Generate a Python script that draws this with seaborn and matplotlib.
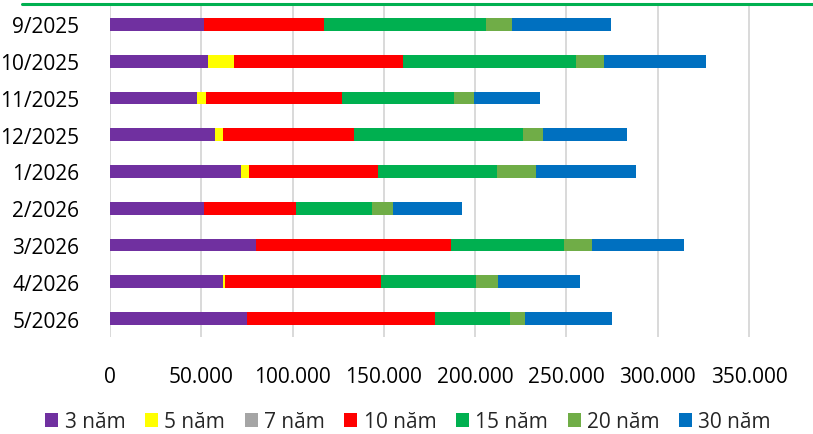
import matplotlib
matplotlib.use("Agg")
import matplotlib.pyplot as plt
from matplotlib.lines import Line2D
from matplotlib.patches import Patch
from matplotlib.ticker import FuncFormatter
import numpy as np
import pandas as pd
import seaborn as sns

# Issuance by tenor per month
months = ["9/2025", "10/2025", "11/2025", "12/2025", "1/2026",
          "2/2026", "3/2026", "4/2026", "5/2026"]
tenors = ["3 năm", "5 năm", "7 năm", "10 năm", "15 năm", "20 năm", "30 năm"]

y3 = [51640, 53670, 47810, 57670, 71740, 51640, 79790, 61880, 74860]
y5 = [0, 14240, 4930, 4210, 4200, 0, 0, 1280, 0]
y7 = [0, 0, 0, 0, 0, 0, 0, 0, 0]
y10 = [65720, 92710, 74310, 71920, 71010, 50060, 106960, 85250, 103290]
y15 = [88720, 94580, 61340, 92550, 64990, 41780, 62050, 52190, 40910]
y20 = [14070, 15340, 11120, 10610, 21360, 11500, 15330, 12050, 8050]
y30 = [54050, 55860, 35980, 46000, 54940, 37960, 50040, 44910, 47970]

colors = ["#7030A0", "#FFFF00", "#A5A5A5", "#FF0000", "#00B050", "#70AD47", "#0070C0"]

series = [y3, y5, y7, y10, y15, y20, y30]
cum = np.cumsum(np.array(series, dtype=float), axis=0)

sns.set_theme(style="white")
plt.rcParams["font.family"] = ["Open Sans", "DejaVu Sans"]

fig = plt.figure(figsize=(8.13, 4.35), dpi=100)
ax = fig.add_axes([110 / 813, 1 - 338 / 435, 1 - 110 / 813, 331 / 435])

# stacked bars: draw cumulative totals from the outermost segment inwards
for i in range(len(tenors) - 1, -1, -1):
    df = pd.DataFrame({"month": months, "value": cum[i]})
    sns.barplot(data=df, x="value", y="month", order=months, orient="h",
                color=colors[i], width=0.35, saturation=1, ax=ax,
                edgecolor="none", linewidth=0, zorder=3)

ax.set_xlim(0, 385000)
ax.set_ylim(len(months) - 0.5, -0.5)
ax.set_xticks(np.arange(0, 350001, 50000))
ax.xaxis.set_major_formatter(FuncFormatter(lambda v, p: f"{int(v):,}".replace(",", ".")))
ax.grid(axis="x", color="#D9D9D9", linewidth=1.4, zorder=0)
ax.grid(axis="y", visible=False)
for s in ax.spines.values():
    s.set_visible(False)
ax.set_xlabel("")
ax.set_ylabel("")
ax.tick_params(axis="x", length=0, pad=21, labelsize=15, labelcolor="#000000")
ax.tick_params(axis="y", length=0, pad=22, labelsize=15, labelcolor="#000000")

# accent rule along the top
fig.add_artist(Line2D([22 / 813, 1], [1 - 5 / 435, 1 - 5 / 435],
                      color="#00B050", linewidth=2.2, transform=fig.transFigure))

handles = [Patch(facecolor=c, edgecolor="none") for c in colors]
fig.legend(handles, tenors, loc="center", bbox_to_anchor=(0.502, 1 - 423 / 435),
           ncol=7, frameon=False, fontsize=15, handlelength=0.62, handleheight=0.62,
           handletextpad=0.3, columnspacing=0.95, borderaxespad=0)

fig.savefig("out.png", dpi=100)
